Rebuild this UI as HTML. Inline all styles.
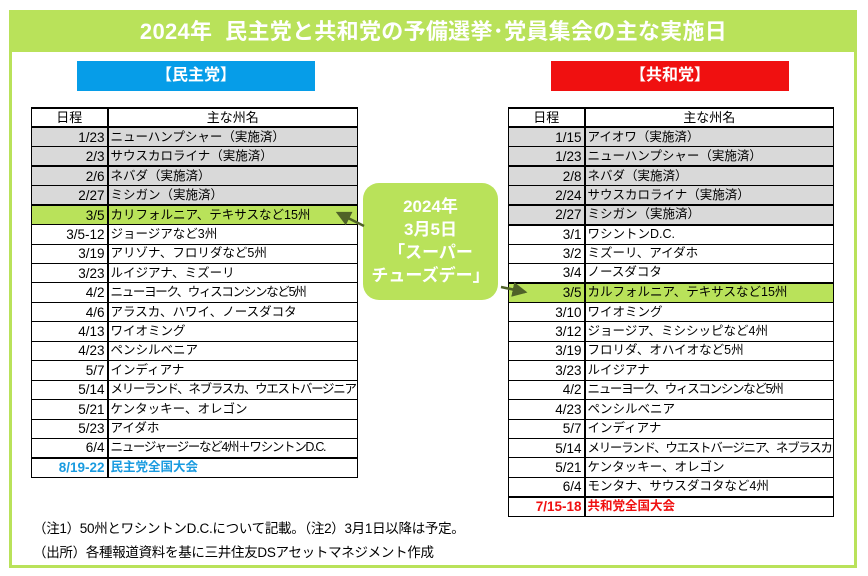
<!DOCTYPE html>
<html><head><meta charset="utf-8"><style>
*{margin:0;padding:0;box-sizing:border-box}
body{width:868px;height:576px;background:#fff;position:relative;overflow:hidden;font-family:"Liberation Sans","Noto Sans CJK JP",sans-serif;color:#000}
.frame{position:absolute;left:9px;top:10px;width:848px;height:558px;border:3px solid #b9e25a}
.title{position:absolute;left:12px;top:12px;width:843px;height:40px;background:#b9e25a;color:#fff;font-weight:bold;font-size:22px;text-align:center;line-height:40px;letter-spacing:0.3px}
.party{position:absolute;top:61px;width:238px;height:30px;color:#fff;font-weight:bold;font-size:16px;text-align:center;line-height:30px}
table{position:absolute;border-collapse:collapse;font-size:12.5px;table-layout:fixed}
td{height:19.45px;border:1px solid #000;padding:0 2px;white-space:nowrap;line-height:17px;overflow:hidden}
td.d{text-align:right;border-right:2px solid #000;font-size:13.5px}
tr.h td{text-align:center;border-top:2px solid #000;border-bottom:2px solid #000;font-size:13px}
tr.g td{background:#d9d9d9}
tr.y td{background:#b9e25a}
tr.t td{border-top:2px solid #000}
.c{letter-spacing:-1.3px}
.callout{position:absolute;left:363px;top:183px;width:135px;height:117px;background:#b9e25a;border-radius:16px;color:#fff;font-weight:bold;font-size:17px;text-align:center;line-height:23px;padding-top:12px}
.note{position:absolute;left:33px;font-size:13.5px;letter-spacing:-0.3px}
</style></head><body>
<div class="frame"></div>
<div class="title">2024年&nbsp;&nbsp;民主党と共和党の予備選挙･党員集会の主な実施日</div>
<div class="party" style="left:77px;background:#069de8">【民主党】</div>
<div class="party" style="left:551px;background:#f01010">【共和党】</div>

<table style="left:31px;top:107px;width:326px">
<colgroup><col style="width:76px"><col style="width:250px"></colgroup>
<tr class="h"><td style="border-right:2px solid #000">日程</td><td>主な州名</td></tr>
<tr class="g"><td class="d">1/23</td><td>ニューハンプシャー（実施済）</td></tr>
<tr class="g"><td class="d">2/3</td><td>サウスカロライナ（実施済）</td></tr>
<tr class="g t"><td class="d">2/6</td><td>ネバダ（実施済）</td></tr>
<tr class="g"><td class="d">2/27</td><td>ミシガン（実施済）</td></tr>
<tr class="y t"><td class="d">3/5</td><td>カリフォルニア、テキサスなど15州</td></tr>
<tr><td class="d">3/5-12</td><td>ジョージアなど3州</td></tr>
<tr><td class="d">3/19</td><td>アリゾナ、フロリダなど5州</td></tr>
<tr><td class="d">3/23</td><td>ルイジアナ、ミズーリ</td></tr>
<tr><td class="d">4/2</td><td class="c">ニューヨーク、ウィスコンシンなど5州</td></tr>
<tr><td class="d">4/6</td><td>アラスカ、ハワイ、ノースダコタ</td></tr>
<tr><td class="d">4/13</td><td>ワイオミング</td></tr>
<tr><td class="d">4/23</td><td>ペンシルベニア</td></tr>
<tr><td class="d">5/7</td><td>インディアナ</td></tr>
<tr><td class="d">5/14</td><td class="c">メリーランド、ネブラスカ、ウエストバージニア</td></tr>
<tr><td class="d">5/21</td><td>ケンタッキー、オレゴン</td></tr>
<tr><td class="d">5/23</td><td>アイダホ</td></tr>
<tr><td class="d">6/4</td><td class="c">ニュージャージーなど4州＋ワシントンD.C.</td></tr>
<tr class="t" style="color:#1a9be0;font-weight:bold"><td class="d">8/19-22</td><td>民主党全国大会</td></tr>
</table>

<table style="left:508px;top:107px;width:325px">
<colgroup><col style="width:76px"><col style="width:249px"></colgroup>
<tr class="h"><td style="border-right:2px solid #000">日程</td><td>主な州名</td></tr>
<tr class="g"><td class="d">1/15</td><td>アイオワ（実施済）</td></tr>
<tr class="g"><td class="d">1/23</td><td>ニューハンプシャー（実施済）</td></tr>
<tr class="g t"><td class="d">2/8</td><td>ネバダ（実施済）</td></tr>
<tr class="g"><td class="d">2/24</td><td>サウスカロライナ（実施済）</td></tr>
<tr class="g t"><td class="d">2/27</td><td>ミシガン（実施済）</td></tr>
<tr class="t"><td class="d">3/1</td><td>ワシントンD.C.</td></tr>
<tr><td class="d">3/2</td><td>ミズーリ、アイダホ</td></tr>
<tr><td class="d">3/4</td><td>ノースダコタ</td></tr>
<tr class="y t"><td class="d">3/5</td><td>カルフォルニア、テキサスなど15州</td></tr>
<tr><td class="d">3/10</td><td>ワイオミング</td></tr>
<tr><td class="d">3/12</td><td>ジョージア、ミシシッピなど4州</td></tr>
<tr><td class="d">3/19</td><td>フロリダ、オハイオなど5州</td></tr>
<tr><td class="d">3/23</td><td>ルイジアナ</td></tr>
<tr><td class="d">4/2</td><td class="c">ニューヨーク、ウィスコンシンなど5州</td></tr>
<tr><td class="d">4/23</td><td>ペンシルベニア</td></tr>
<tr><td class="d">5/7</td><td>インディアナ</td></tr>
<tr><td class="d">5/14</td><td class="c">メリーランド、ウエストバージニア、ネブラスカ</td></tr>
<tr><td class="d">5/21</td><td>ケンタッキー、オレゴン</td></tr>
<tr><td class="d">6/4</td><td>モンタナ、サウスダコタなど4州</td></tr>
<tr class="t" style="color:#f01010;font-weight:bold"><td class="d">7/15-18</td><td>共和党全国大会</td></tr>
</table>

<div class="callout">2024年<br>3月5日<br>「スーパー<br>チューズデー」</div>
<svg style="position:absolute;left:0;top:0" width="868" height="576">
<defs><marker id="a" markerWidth="6" markerHeight="6" refX="5" refY="3" orient="auto"><path d="M0,0 L6,3 L0,6 z" fill="#4f6228"/></marker></defs>
<line x1="364" y1="226" x2="338" y2="213" stroke="#4f6228" stroke-width="2.5" marker-end="url(#a)"/>
<line x1="501" y1="287" x2="525" y2="292" stroke="#4f6228" stroke-width="2.5" marker-end="url(#a)"/>
</svg>
<div class="note" style="top:517px">（注1）50州とワシントンD.C.について記載。（注2）3月1日以降は予定。</div>
<div class="note" style="top:541px">（出所）各種報道資料を基に三井住友DSアセットマネジメント作成</div>
</body></html>
